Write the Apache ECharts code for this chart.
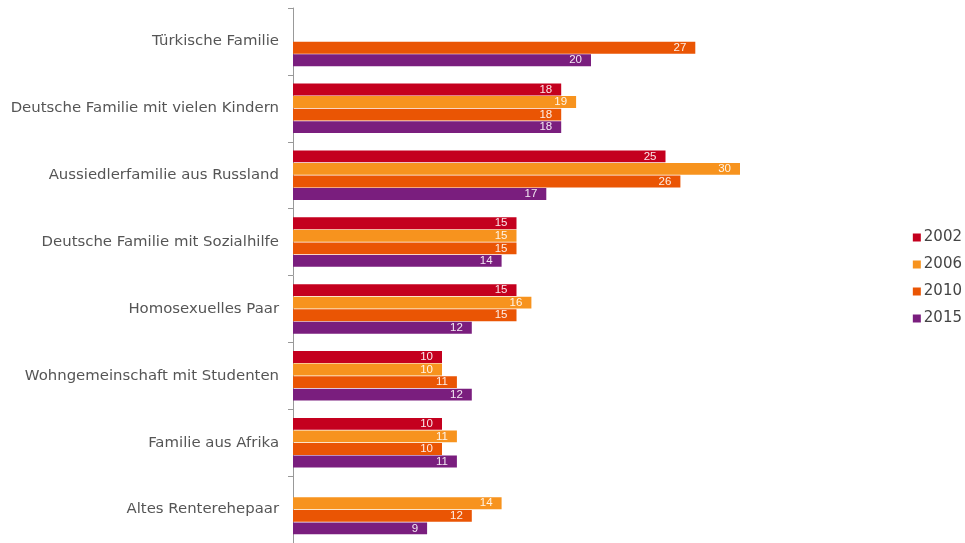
<!DOCTYPE html>
<html>
<head>
<meta charset="utf-8">
<script src="https://cdn.jsdelivr.net/npm/echarts@6/dist/echarts.min.js"></script>
<style>
html,body{margin:0;padding:0;background:#fff;}
#main{width:965px;height:543px;}
</style>
</head>
<body>
<div id="main"></div>
<script>
const categories = [
  'Türkische Familie',
  'Deutsche Familie mit vielen Kindern',
  'Aussiedlerfamilie aus Russland',
  'Deutsche Familie mit Sozialhilfe',
  'Homosexuelles Paar',
  'Wohngemeinschaft mit Studenten',
  'Familie aus Afrika',
  'Altes Renterehepaar'
];
const years = ['2002', '2006', '2010', '2015'];
const s2002 = [null, 18, 25, 15, 15, 10, 10, null];
const s2006 = [null, 19, 30, 15, 16, 10, 11, 14];
const s2010 = [27, 18, 26, 15, 15, 11, 10, 12];
const s2015 = [20, 18, 17, 14, 12, 12, 11, 9];

const colors = ['#c4001e', '#f7931e', '#ea5504', '#7a1e7e'];
const seriesData = [s2002, s2006, s2010, s2015];

const chart = echarts.init(document.getElementById('main'), null, {renderer: 'canvas'});
chart.setOption({
  animation: false,
  backgroundColor: '#ffffff',
  color: colors,
  textStyle: {fontFamily: 'DejaVu Sans'},
  grid: {left: 293, top: 8, right: 225, bottom: 0, containLabel: false},
  legend: {
    orient: 'vertical',
    right: -2,
    top: 225,
    padding: 5,
    icon: 'rect',
    itemWidth: 8,
    itemHeight: 8,
    itemGap: 12,
    itemStyle: {borderWidth: 0},
    textStyle: {color: '#444', fontSize: 15, fontFamily: 'DejaVu Sans', padding: [0, 0, 0, -2]},
    data: years
  },
  xAxis: {
    type: 'value',
    min: 0,
    max: 30,
    show: false
  },
  yAxis: {
    type: 'category',
    inverse: true,
    data: categories,
    axisLine: {show: true, lineStyle: {color: '#999', width: 1}},
    axisTick: {show: true, length: 5, lineStyle: {color: '#999'}},
    axisLabel: {color: '#555', fontSize: 14.9, margin: 14, fontFamily: 'DejaVu Sans'}
  },
  series: years.map((y, i) => ({
    name: y,
    type: 'bar',
    data: seriesData[i],
    barCategoryGap: '26%',
    barGap: '6%',
    itemStyle: {color: colors[i]},
    label: {
      show: true,
      position: 'insideRight',
      distance: 9,
      color: 'rgba(255,255,255,0.9)',
      fontSize: 11.5,
      fontFamily: 'Liberation Sans'
    }
  }))
});
</script>
</body>
</html>
